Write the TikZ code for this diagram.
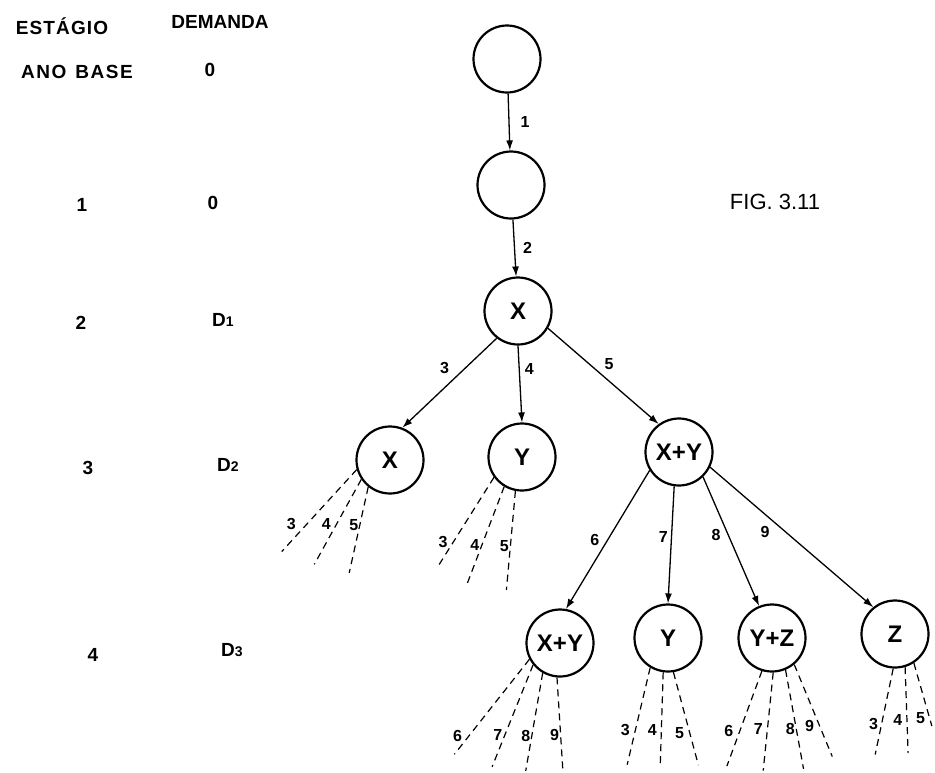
\documentclass[tikz,border=0pt]{standalone}
\usepackage{fontspec}
\setmainfont{Liberation Sans}
\usetikzlibrary{arrows.meta, positioning}

\begin{document}
\begin{tikzpicture}[x=1pt,y=-1pt,
  st/.style={circle,draw,line width=2.2pt,minimum size=67pt,inner sep=0pt,font=\fontsize{24}{24}\selectfont\bfseries},
  arr/.style={-{Latex[length=10pt,width=7pt]},line width=1.3pt},
  fan/.style={dash pattern=on 7pt off 5pt,line width=1.2pt},
  lbl/.style={font=\fontsize{16}{16}\selectfont\bfseries,inner sep=1pt},
  hd/.style={font=\fontsize{19}{19}\selectfont\bfseries,inner sep=0pt}
]
  \useasboundingbox (0,0) rectangle (935,772);

  % left columns: stage and demand
  \node[hd,font=\fontsize{19}{19}\selectfont\bfseries\addfontfeature{LetterSpace=6}](hst) at (62,26) {ESTÁGIO};
  \node[hd](hdm) at (220,22) {DEMANDA};
  \node[hd,font=\fontsize{19}{19}\selectfont\bfseries\addfontfeature{LetterSpace=8}](st0) at (77,72) {ANO\hspace{9pt}BASE};
  \node[hd](dm0) at (210,70) {0};
  \node[hd](st1) at (82,205) {1};
  \node[hd](dm1) at (213,203) {0};
  \node[hd](st2) at (81,323) {2};
  \node[hd](dm2) at (223,320) {D{\fontsize{14}{14}\selectfont 1}};
  \node[hd](st3) at (88,468) {3};
  \node[hd](dm3) at (228,465) {D{\fontsize{14}{14}\selectfont 2}};
  \node[hd](st4) at (93,655) {4};
  \node[hd](dm4) at (232,650) {D{\fontsize{14}{14}\selectfont 3}};

  \node[font=\fontsize{22}{22}\selectfont](fig) at (775,202) {FIG. 3.11};

  % tree
  \node[st](s0)  at (507,59)  {};
  \node[st](s1)  at (511,185) {};
  \node[st](x2)  at (518,311) {X};
  \node[st](x3)  at (390,460) {X};
  \node[st](y3)  at (522,457) {Y};
  \node[st](xy3) at (679,452) {X+Y};
  \node[st](xy4) at (560,643) {X+Y};
  \node[st](y4)  at (668,638) {Y};
  \node[st](yz4) at (772,638) {Y+Z};
  \node[st](z4)  at (895,634) {Z};

  \draw[arr](s0)--node[lbl,right=10pt]{1}(s1);
  \draw[arr](s1)--node[lbl,right=7pt]{2}(x2);
  \draw[arr](x2.232)--node[lbl,pos=0.33,left=15pt]{3}(x3.69);
  \draw[arr](x2.south)--node[lbl,pos=0.3,right=4pt]{4}(y3.north);
  \draw[arr](x2.330)--node[lbl,pos=0.37,right=14pt]{5}(xy3.126);
  \draw[arr](xy3.212)--node[lbl,pos=0.5,left=7pt]{6}(xy4.80);
  \draw[arr](xy3.262)--node[lbl,pos=0.43,left=2pt]{7}(y4.north);
  \draw[arr](xy3.314)--node[lbl,pos=0.45,left=6pt]{8}(yz4.112);
  \draw[arr](xy3.334)--node[lbl,pos=0.46,left=14pt]{9}(z4.129);

  % dashed continuations
  \foreach \a/\dx/\dy/\p/\g/\n in {196/-75/82/0.67/9pt/3, 214/-47/85/0.53/4pt/4, 231/-19/86/0.44/0pt/5}
    \draw[fan](x3.\a)--++(\dx,\dy) node[lbl,pos=\p,left=\g]{\n};
  \foreach \a/\dx/\dy/\p/\g/\n in {216/-56/89/0.73/4pt/3, 239/-37/97/0.6/1pt/4, 259/-9/99/0.56/0pt/5}
    \draw[fan](y3.\a)--++(\dx,\dy) node[lbl,pos=\p,left=\g]{\n};
  \foreach \a/\dx/\dy/\p/\g/\n in {208/-75/95/0.81/5pt/6, 219/-41/102/0.69/1pt/7, 240/-17/98/0.64/0pt/8, 265/6/95/0.61/0pt/9}
    \draw[fan](xy4.\a)--++(\dx,\dy) node[lbl,pos=\p,left=\g]{\n};
  \foreach \a/\dx/\dy/\p/\g/\n in {239/-23/97/0.64/4pt/3, 262/-3/95/0.61/3pt/4, 279/25/93/0.65/4pt/5}
    \draw[fan](y4.\a)--++(\dx,\dy) node[lbl,pos=\p,left=\g]{\n};
  \foreach \a/\dx/\dy/\p/\g/\n in {253/-35/95/0.63/5pt/6, 272/-10/98/0.58/3pt/7, 293/18/99/0.6/0pt/8, 310/38/92/0.67/4pt/9}
    \draw[fan](yz4.\a)--++(\dx,\dy) node[lbl,pos=\p,left=\g]{\n};
  \foreach \a/\dx/\dy/\p/\g/\n in {267/-18/86/0.64/2pt/3, 287/3/86/0.62/3pt/4, 303/18/63/0.87/3pt/5}
    \draw[fan](z4.\a)--++(\dx,\dy) node[lbl,pos=\p,left=\g]{\n};
\end{tikzpicture}
\end{document}
